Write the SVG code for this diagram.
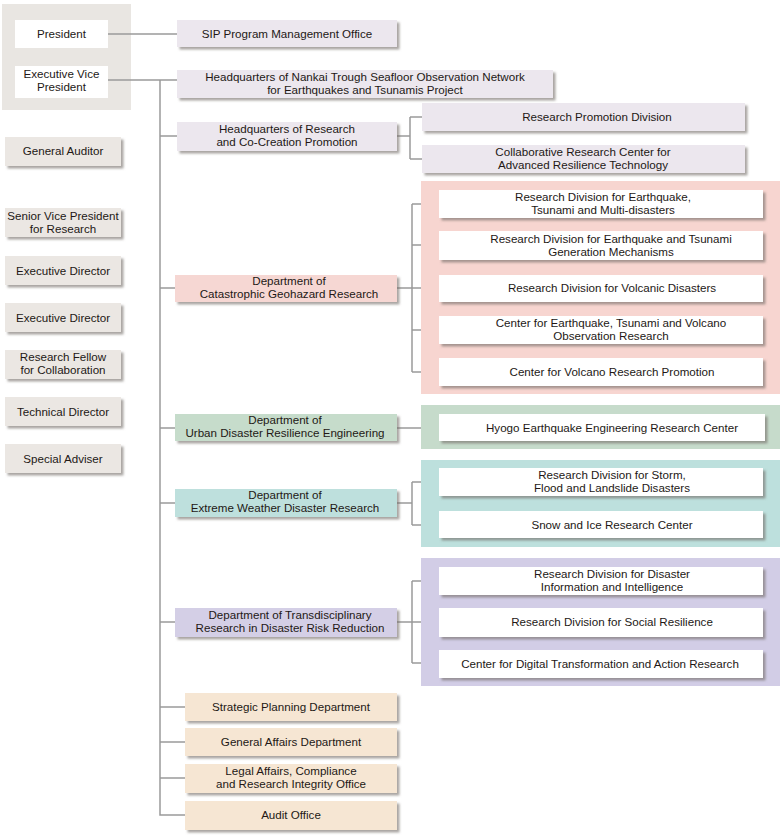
<svg xmlns="http://www.w3.org/2000/svg" width="780" height="836" viewBox="0 0 780 836">
<defs>
<filter id="sh" x="-5%" y="-20%" width="115%" height="160%">
<feDropShadow dx="2.5" dy="2.5" stdDeviation="1" flood-color="#6f6a66" flood-opacity="0.6"/>
</filter>
<style>
text{font-family:"Liberation Sans",Arial,sans-serif;font-size:11.6px;fill:#231815;text-anchor:middle}
.ln{stroke:#9a9a9a;stroke-width:1.5;fill:none}
.w{fill:#ffffff;filter:url(#sh)}
.g{fill:#ebe7e3;filter:url(#sh)}
.lav{fill:#ece7ee;filter:url(#sh)}
.pk{fill:#f6d7d3;filter:url(#sh)}
.gr{fill:#c6dccb;filter:url(#sh)}
.cy{fill:#bee0dd;filter:url(#sh)}
.pu{fill:#d4cfe6;filter:url(#sh)}
.tn{fill:#f6e6d3;filter:url(#sh)}
</style>
</defs>
<rect x="2" y="4" width="129" height="106" fill="#e9e6e2"/>
<g id="connectors">
<path class="ln" d="M108 34H177M108 80H177M160 80V815H185M160 136H177M160 288H175M160 428H175M160 503H175M160 622H175M160 707H185M160 742H185M160 778H185"/>
<path class="ln" d="M397 136H410M410 117V159M410 117H422M410 159H422"/>
<path class="ln" d="M397 288H421M412 204V372M412 204H421M412 245H421M412 330H421M412 372H421"/>
<path class="ln" d="M397 428H421"/>
<path class="ln" d="M397 503H412M412 482V525M412 482H421M412 525H421"/>
<path class="ln" d="M397 622H421M412 581V663M412 581H421M412 663H421"/>
</g>
<g id="panels">
<rect x="421" y="181" width="359" height="213" fill="#f7d5d0"/>
<rect x="421" y="405" width="359" height="44" fill="#c6dbcb"/>
<rect x="421" y="460" width="359" height="87" fill="#bde0dd"/>
<rect x="421" y="558" width="359" height="128" fill="#d2cde6"/>
</g>
<g id="president"><rect class="w" x="15" y="20" width="93" height="28" style="filter:none"/><text x="61.5" y="38">President</text></g>
<g id="evp"><rect class="w" x="15" y="66" width="93" height="32" style="filter:none"/><text x="61.5" y="78">Executive Vice</text><text x="61.5" y="91">President</text></g>
<g id="general-auditor"><rect class="g" x="5" y="137" width="116" height="29"/><text x="63" y="155">General Auditor</text></g>
<g id="svp"><rect class="g" x="5" y="208" width="116" height="29"/><text x="63" y="220">Senior Vice President</text><text x="63" y="233">for Research</text></g>
<g id="ed1"><rect class="g" x="5" y="256" width="116" height="29"/><text x="63" y="275">Executive Director</text></g>
<g id="ed2"><rect class="g" x="5" y="303" width="116" height="29"/><text x="63" y="322">Executive Director</text></g>
<g id="rf"><rect class="g" x="5" y="350" width="116" height="29"/><text x="63" y="361">Research Fellow</text><text x="63" y="374">for Collaboration</text></g>
<g id="td"><rect class="g" x="5" y="397" width="116" height="29"/><text x="63" y="416">Technical Director</text></g>
<g id="sa"><rect class="g" x="5" y="444" width="116" height="29"/><text x="63" y="463">Special Adviser</text></g>
<g id="sip"><rect class="lav" x="177" y="20" width="220" height="27"/><text x="287" y="38">SIP Program Management Office</text></g>
<g id="nankai"><rect class="lav" x="177" y="70" width="376" height="28"/><text x="365" y="81">Headquarters of Nankai Trough Seafloor Observation Network</text><text x="365" y="94">for Earthquakes and Tsunamis Project</text></g>
<g id="hq-research"><rect class="lav" x="177" y="122" width="220" height="29"/><text x="287" y="133">Headquarters of Research</text><text x="287" y="146">and Co-Creation Promotion</text></g>
<g id="rpd"><rect class="lav" x="422" y="103" width="323" height="28"/><text x="597" y="121">Research Promotion Division</text></g>
<g id="collab"><rect class="lav" x="422" y="145" width="323" height="28"/><text x="583" y="156">Collaborative Research Center for</text><text x="583" y="169">Advanced Resilience Technology</text></g>
<g id="dept-cat"><rect class="pk" x="175" y="275" width="222" height="27"/><text x="289" y="285">Department of</text><text x="289" y="298">Catastrophic Geohazard Research</text></g>
<g id="cat1"><rect class="w" x="439" y="190" width="324" height="28"/><text x="603" y="201">Research Division for Earthquake,</text><text x="603" y="214">Tsunami and Multi-disasters</text></g>
<g id="cat2"><rect class="w" x="439" y="231" width="324" height="29"/><text x="611" y="243">Research Division for Earthquake and Tsunami</text><text x="611" y="256">Generation Mechanisms</text></g>
<g id="cat3"><rect class="w" x="439" y="275" width="324" height="27"/><text x="612" y="292">Research Division for Volcanic Disasters</text></g>
<g id="cat4"><rect class="w" x="439" y="316" width="324" height="28"/><text x="611" y="327">Center for Earthquake, Tsunami and Volcano</text><text x="611" y="340">Observation Research</text></g>
<g id="cat5"><rect class="w" x="439" y="358" width="324" height="28"/><text x="612" y="376">Center for Volcano Research Promotion</text></g>
<g id="dept-urban"><rect class="gr" x="175" y="414" width="222" height="27"/><text x="285" y="424">Department of</text><text x="285" y="437">Urban Disaster Resilience Engineering</text></g>
<g id="hyogo"><rect class="w" x="439" y="414" width="326" height="27"/><text x="612" y="432">Hyogo Earthquake Engineering Research Center</text></g>
<g id="dept-extreme"><rect class="cy" x="175" y="489" width="222" height="28"/><text x="285" y="499">Department of</text><text x="285" y="512">Extreme Weather Disaster Research</text></g>
<g id="ext1"><rect class="w" x="439" y="468" width="324" height="28"/><text x="612" y="479">Research Division for Storm,</text><text x="612" y="492">Flood and Landslide Disasters</text></g>
<g id="ext2"><rect class="w" x="439" y="511" width="324" height="27"/><text x="612" y="529">Snow and Ice Research Center</text></g>
<g id="dept-trans"><rect class="pu" x="175" y="608" width="222" height="29"/><text x="290" y="619">Department of Transdisciplinary</text><text x="290" y="632">Research in Disaster Risk Reduction</text></g>
<g id="tr1"><rect class="w" x="439" y="567" width="324" height="28"/><text x="612" y="578">Research Division for Disaster</text><text x="612" y="591">Information and Intelligence</text></g>
<g id="tr2"><rect class="w" x="439" y="608" width="324" height="29"/><text x="612" y="626">Research Division for Social Resilience</text></g>
<g id="tr3"><rect class="w" x="439" y="650" width="324" height="28"/><text x="600" y="668">Center for Digital Transformation and Action Research</text></g>
<g id="strategic"><rect class="tn" x="185" y="693" width="212" height="28"/><text x="291" y="711">Strategic Planning Department</text></g>
<g id="general-affairs"><rect class="tn" x="185" y="728" width="212" height="28"/><text x="291" y="746">General Affairs Department</text></g>
<g id="legal"><rect class="tn" x="185" y="764" width="212" height="29"/><text x="291" y="775">Legal Affairs, Compliance</text><text x="291" y="788">and Research Integrity Office</text></g>
<g id="audit"><rect class="tn" x="185" y="801" width="212" height="29"/><text x="291" y="819">Audit Office</text></g>
</svg>
